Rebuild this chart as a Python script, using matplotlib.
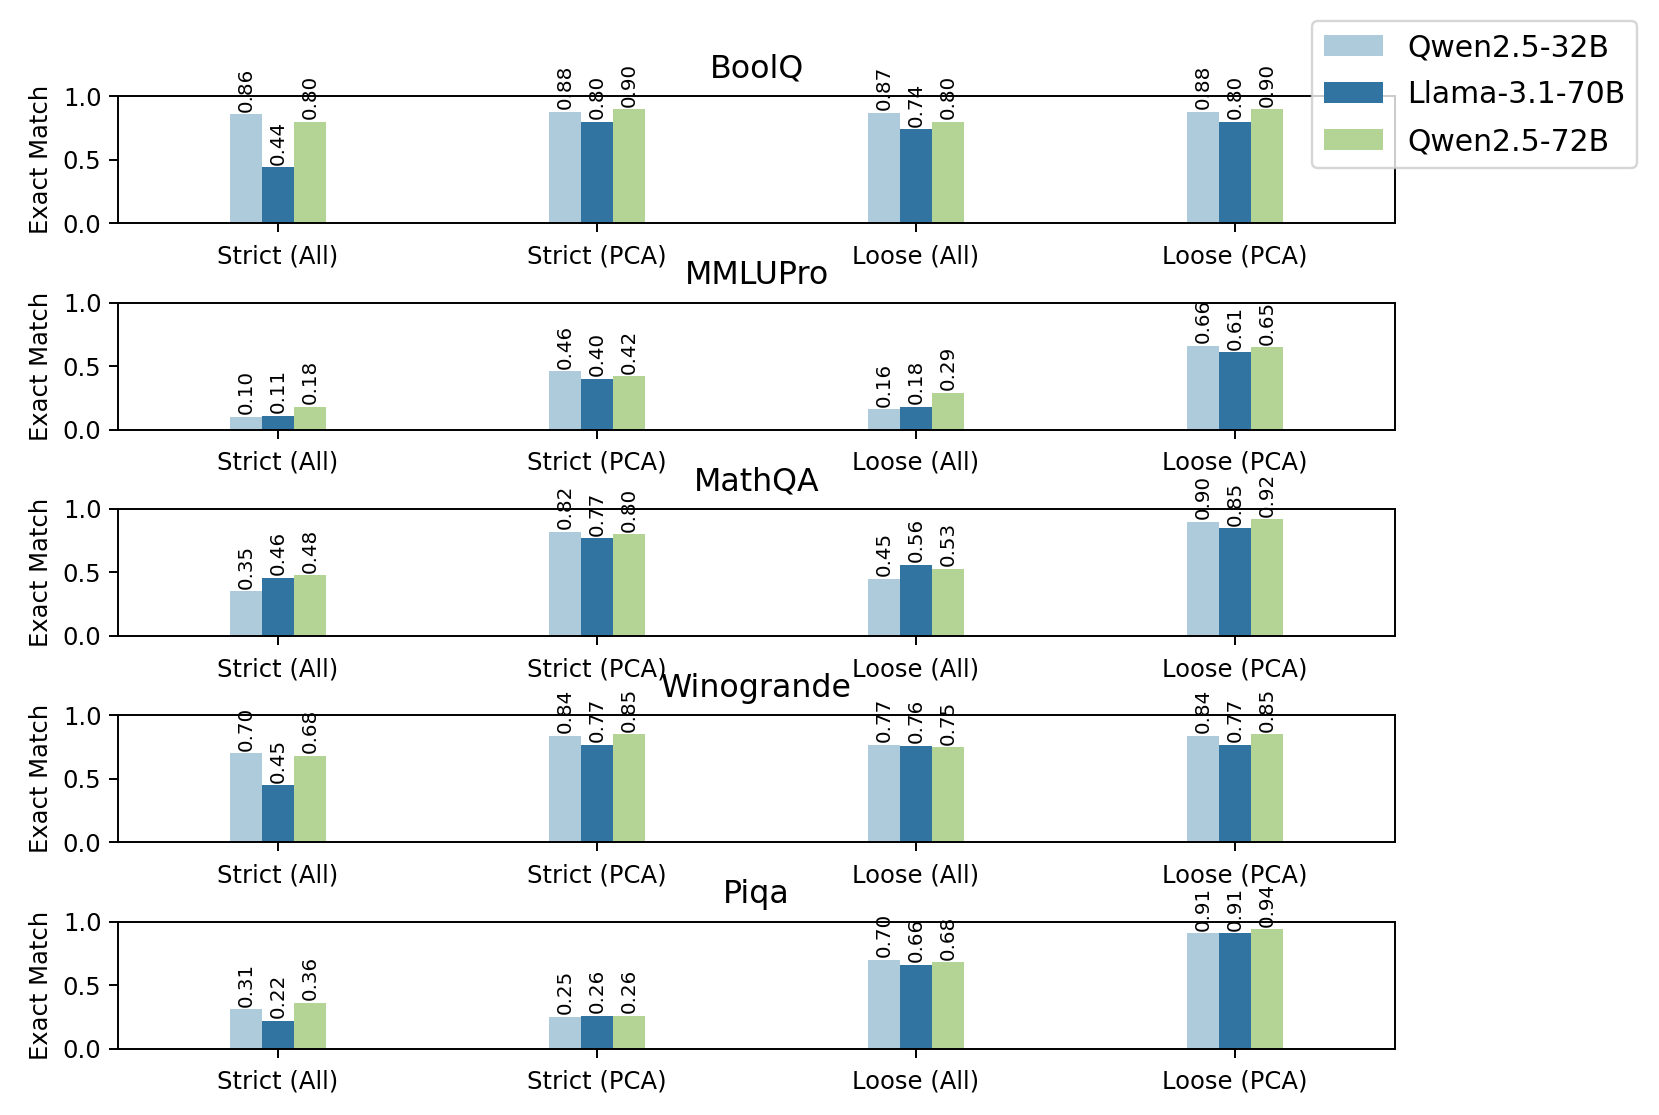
import numpy as np
import matplotlib
matplotlib.use('Agg')
import matplotlib.pyplot as plt

# data
datasets = ['BoolQ', 'MMLUPro', 'MathQA', 'Winogrande', 'Piqa']
settings = ['Strict (All)', 'Strict (PCA)', 'Loose (All)', 'Loose (PCA)']
models = ['Qwen2.5-32B', 'Llama-3.1-70B', 'Qwen2.5-72B']

qwen32 = [
    [0.86, 0.88, 0.87, 0.88],
    [0.10, 0.46, 0.16, 0.66],
    [0.35, 0.82, 0.45, 0.90],
    [0.70, 0.84, 0.77, 0.84],
    [0.31, 0.25, 0.70, 0.91],
]
llama70 = [
    [0.44, 0.80, 0.74, 0.80],
    [0.11, 0.40, 0.18, 0.61],
    [0.46, 0.77, 0.56, 0.85],
    [0.45, 0.77, 0.76, 0.77],
    [0.22, 0.26, 0.66, 0.91],
]
qwen72 = [
    [0.80, 0.90, 0.80, 0.90],
    [0.18, 0.42, 0.29, 0.65],
    [0.48, 0.80, 0.53, 0.92],
    [0.68, 0.85, 0.75, 0.85],
    [0.36, 0.26, 0.68, 0.94],
]

colors = ['#aecbdb', '#3274a1', '#b3d495']

DPI = 175


def draw_panel(ax: plt.Axes, title, series):
    x = np.arange(len(settings))
    width = 0.1
    for i, (vals, color) in enumerate(zip(series, colors)):
        bars = ax.bar(x + (i - 1) * width, vals, width, color=color,
                      linewidth=0, label=models[i])
        ax.bar_label(bars, fmt='%.2f', rotation=90, fontsize=8.2, padding=1)
    ax.set_xlim(-0.5, 3.5)
    ax.set_ylim(0, 1.0)
    ax.set_yticks([0.0, 0.5, 1.0])
    ax.set_xticks(x)
    ax.set_xticklabels(settings)
    ax.tick_params(axis='x', pad=5.2)
    ax.set_ylabel('Exact Match')
    ax.set_title(title, fontsize=13, pad=7.7)


def main():
    fig, axes = plt.subplots(5, 1, figsize=(1659 / DPI, 1115 / DPI), dpi=DPI)
    fig.subplots_adjust(left=0.0714, right=0.8406, top=0.9136,
                        bottom=0.0596, hspace=0.626)
    for k, ax in enumerate(axes):
        draw_panel(ax, datasets[k], [qwen32[k], llama70[k], qwen72[k]])

    handles, labels = axes[0].get_legend_handles_labels()
    fig.legend(handles, labels, loc='upper right', borderaxespad=0,
               bbox_to_anchor=(0.987, 0.981), fontsize=12.3,
               labelspacing=0.6)

    plt.savefig('out.png', dpi=DPI)


if __name__ == "__main__":
    main()
